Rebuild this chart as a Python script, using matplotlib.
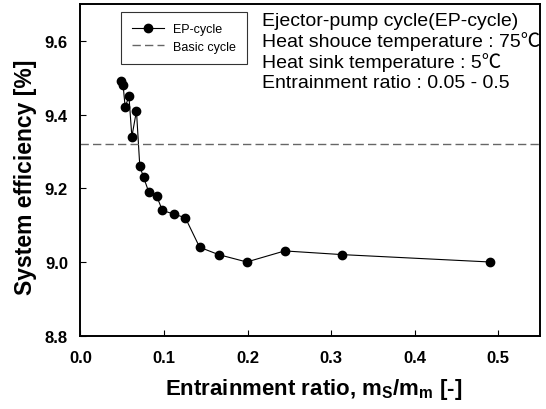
import matplotlib
matplotlib.use("Agg")
import matplotlib.pyplot as plt

plt.rcParams['font.family'] = ['Liberation Sans', 'DejaVu Sans']
plt.rcParams['mathtext.fontset'] = 'custom'
plt.rcParams['mathtext.rm'] = 'Liberation Sans'
plt.rcParams['mathtext.bf'] = 'Liberation Sans:bold'
plt.rcParams['mathtext.it'] = 'Liberation Sans:italic'

# Data
ratio = [0.049, 0.051, 0.0535, 0.058, 0.0615, 0.067, 0.071, 0.0755, 0.0817, 0.091,
         0.098, 0.1116, 0.1255, 0.1426, 0.1653, 0.199, 0.2444, 0.3132, 0.490]
efficiency = [9.49, 9.48, 9.42, 9.45, 9.34, 9.41, 9.26, 9.23, 9.19, 9.18,
              9.14, 9.13, 9.12, 9.04, 9.02, 9.00, 9.03, 9.02, 9.00]
basic_efficiency = 9.32

x_ticks = [0.0, 0.1, 0.2, 0.3, 0.4, 0.5]
y_ticks = [8.8, 9.0, 9.2, 9.4, 9.6]

info_lines = ["Ejector-pump cycle(EP-cycle)",
              "Heat shouce temperature : 75\u2103",
              "Heat sink temperature : 5\u2103",
              "Entrainment ratio : 0.05 - 0.5"]

fig = plt.figure(figsize=(5.46, 4.10), dpi=100)
ax = fig.add_axes([0.1474, 0.1788, 0.989 - 0.1474, 0.9878 - 0.1788])

ax.plot(ratio, efficiency, color='black', lw=0.8, marker='o', ms=6,
        mfc='black', mec='black', label='EP-cycle')
ax.axhline(basic_efficiency, color='#666666', lw=1.0, ls=(0, (6, 3)), label='Basic cycle')

ax.set_xlim(0, 0.55)
ax.set_ylim(8.8, 9.7)
ax.set_xticks(x_ticks)
ax.set_yticks(y_ticks)
ax.set_xticklabels([f"{t:.1f}" for t in x_ticks], fontweight='bold', fontsize=12)
ax.set_yticklabels([f"{t:.1f}" for t in y_ticks], fontweight='bold', fontsize=12)
ax.tick_params(direction='in', length=4, width=0.8)
ax.tick_params(axis='x', pad=10)
ax.tick_params(axis='y', pad=9)

for s in ax.spines.values():
    s.set_linewidth(1.4)

renderer = fig.canvas.get_renderer()

fig.text(314 / 546, 1 - 390 / 410, r'Entrainment ratio, m$_{\mathbf{S}}$/m$_{\mathbf{m}}$ [-]',
         fontsize=16, fontweight='bold', ha='center', va='center')
fig.text(26 / 546, 1 - 177 / 410, 'System efficiency [%]', rotation=90,
         fontsize=16.5, fontweight='bold', ha='center', va='center')

leg = ax.legend(loc='upper left', bbox_to_anchor=(0.0876, 0.977), fontsize=9,
                frameon=True, fancybox=False, edgecolor='black', handlelength=2.6,
                handletextpad=0.7, borderpad=0.9, labelspacing=0.45, borderaxespad=0)
leg.get_frame().set_linewidth(0.8)

texts = []
for i, line in enumerate(info_lines):
    t = fig.text(262 / 546, 1 - (21 + 21 * i) / 410, line, fontsize=13,
                 ha='left', va='center',
                 family=['Liberation Sans', 'Noto Sans CJK KR'])
    texts.append(t)
bb = texts[0].get_window_extent(renderer)
scale = 255 / bb.width
for t in texts:
    t.set_fontsize(t.get_fontsize() * scale)

fig.savefig('out.png', dpi=100)
